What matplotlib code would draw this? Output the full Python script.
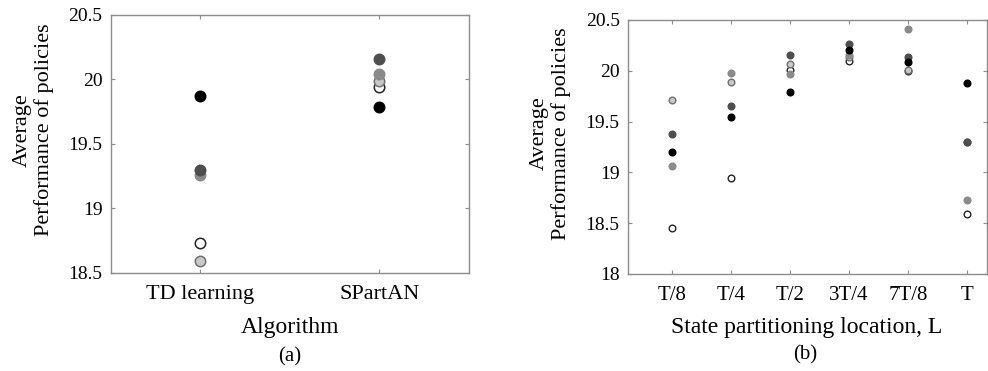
import matplotlib
matplotlib.use('Agg')
import matplotlib.pyplot as plt

plt.rcParams['font.family'] = ['Liberation Serif', 'DejaVu Serif']

# (a) algorithm comparison
alg_labels = ['TD learning', 'SPartAN']
a_black = [19.87, 19.79]
a_dark = [19.30, 20.16]
a_gray = [19.26, 20.04]
a_light = [18.59, 19.99]
a_white = [18.73, 19.94]

# (b) state partitioning location
loc_labels = ['T/8', 'T/4', 'T/2', '3T/4', '7T/8', 'T']
b_black = [19.20, 19.55, 19.79, 20.20, 20.09, 19.88]
b_dark = [19.38, 19.65, 20.16, 20.26, 20.14, 19.30]
b_gray = [19.06, 19.98, 19.97, 20.16, 20.41, 18.73]
b_light = [19.71, 19.89, 20.07, 20.14, 20.01, 19.30]
b_white = [18.45, 18.94, 20.01, 20.10, 20.00, 18.59]

styles = [  # face, edge
    ('white', '#222222'),
    ('#c8c8c8', '#707070'),
    ('#8a8a8a', '#8a8a8a'),
    ('#4e4e4e', '#4e4e4e'),
    ('black', 'black'),
]

fig = plt.figure(figsize=(9.88, 3.71), dpi=100)

ax1 = fig.add_axes([0.1123, 0.2642, 0.3623, 0.6954])
ax2 = fig.add_axes([0.6356, 0.2615, 0.3634, 0.6846])

xa = [1, 2]
for vals, (fc, ec) in zip([a_white, a_light, a_gray, a_dark, a_black], styles):
    ax1.plot(xa, vals, 'o', ms=7.5, mfc=fc, mec=ec, mew=1.1, ls='none')

xb = list(range(1, len(loc_labels) + 1))
for vals, (fc, ec) in zip([b_white, b_light, b_gray, b_dark, b_black], styles):
    ax2.plot(xb, vals, 'o', ms=4.8, mfc=fc, mec=ec, mew=1.0, ls='none')

ax1.set_xlim(0.5, 2.5)
ax1.set_ylim(18.5, 20.5)
ax1.set_xticks(xa)
ax1.set_xticklabels(alg_labels)
ax1.set_yticks([18.5, 19, 19.5, 20, 20.5])
ax1.set_yticklabels(['18.5', '19', '19.5', '20', '20.5'])

ax2.set_xlim(0.26, 6.34)
ax2.set_ylim(18, 20.5)
ax2.set_xticks(xb)
ax2.set_xticklabels(loc_labels)
ax2.set_yticks([18, 18.5, 19, 19.5, 20, 20.5])
ax2.set_yticklabels(['18', '18.5', '19', '19.5', '20', '20.5'])

for ax in (ax1, ax2):
    for s in ax.spines.values():
        s.set_color('#8c8c8c')
        s.set_linewidth(1.0)
    ax.tick_params(direction='in', length=3, width=0.8, color='#8c8c8c',
                   top=True, right=True)
    ax.tick_params(axis='y', labelsize=14, pad=6)
ax1.tick_params(axis='x', labelsize=16, pad=9)
ax2.tick_params(axis='x', labelsize=15, pad=9)

fig.text(0.0334, 0.65, 'Average\nPerformance of policies', rotation=90,
         ha='center', va='center', fontsize=16, linespacing=1.15)
fig.text(0.5567, 0.64, 'Average\nPerformance of policies', rotation=90,
         ha='center', va='center', fontsize=16, linespacing=1.15)

fig.text(0.2935, 1 - 328 / 371, 'Algorithm', ha='center', va='center', fontsize=17)
fig.text(0.2935, 1 - 357 / 371, '(a)', ha='center', va='center', fontsize=15)
fig.text(0.816, 1 - 328 / 371, 'State partitioning location, L', ha='center', va='center', fontsize=17)
fig.text(0.815, 1 - 355 / 371, '(b)', ha='center', va='center', fontsize=15)

fig.savefig('out.png', dpi=100)
